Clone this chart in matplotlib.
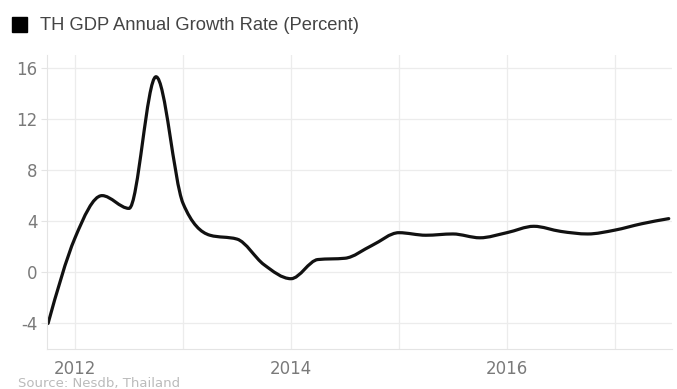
"""
TH GDP annual growth rate, quarterly, smoothed line.
"""

import numpy as np
import matplotlib
matplotlib.use("Agg")
from matplotlib import pyplot as plt
from matplotlib.path import Path
from matplotlib.patches import PathPatch

plt.rcParams["axes.unicode_minus"] = False

# quarter positions (fractional year) and growth values
quarters = [2011.75, 2012.00, 2012.25, 2012.50, 2012.75, 2013.00, 2013.25, 2013.50,
            2013.75, 2014.00, 2014.25, 2014.50, 2014.75, 2015.00, 2015.25, 2015.50,
            2015.75, 2016.00, 2016.25, 2016.50, 2016.75, 2017.00, 2017.25, 2017.50]
growth = [-4.0, 2.7, 6.0, 5.0, 15.3, 5.4, 2.9, 2.6,
          0.6, -0.5, 1.0, 1.1, 2.1, 3.1, 2.9, 3.0,
          2.7, 3.1, 3.6, 3.2, 3.0, 3.3, 3.8, 4.2]

yticks = [-4, 0, 4, 8, 12, 16]
xticks = [2012, 2013, 2014, 2015, 2016, 2017]
xlabels = ["2012", "", "2014", "", "2016", ""]


def smooth_path(x, y):
    # monotone cubic (d3 curveMonotoneX style) as bezier segments
    x = np.asarray(x, float)
    y = np.asarray(y, float)
    n = len(x)
    h = np.diff(x)
    s = np.diff(y) / h
    m = np.zeros(n)
    for i in range(1, n - 1):
        if s[i - 1] * s[i] <= 0:
            m[i] = 0
        else:
            p = (s[i - 1] * h[i] + s[i] * h[i - 1]) / (h[i - 1] + h[i])
            m[i] = (np.sign(s[i - 1]) + np.sign(s[i])) * min(abs(s[i - 1]), abs(s[i]), 0.5 * abs(p))
    m[0] = (3 * s[0] - m[1]) / 2
    m[-1] = (3 * s[-1] - m[-2]) / 2
    verts = [(x[0], y[0])]
    codes = [Path.MOVETO]
    for i in range(n - 1):
        d = h[i] / 3
        verts += [(x[i] + d, y[i] + d * m[i]), (x[i + 1] - d, y[i + 1] - d * m[i + 1]),
                  (x[i + 1], y[i + 1])]
        codes += [Path.CURVE4] * 3
    return Path(verts, codes)


fig = plt.figure(figsize=(6.77, 3.89), dpi=100)
ax = fig.add_axes([0.0694, 0.1028, 0.9232, 0.7558])

ax.add_patch(PathPatch(smooth_path(quarters, growth), fc="none", ec="#111111", lw=2.3,
                       capstyle="round", joinstyle="round"))

ax.set_xlim(2011.74, 2017.53)
ax.set_ylim(-6, 17)
ax.set_yticks(yticks)
ax.set_xticks(xticks)
ax.set_xticklabels(xlabels)
ax.grid(True, color="#ececec", lw=0.9)
ax.set_axisbelow(True)
for s in ["top", "right"]:
    ax.spines[s].set_visible(False)
for s in ["left", "bottom"]:
    ax.spines[s].set_color("#e4e4e4")
ax.tick_params(axis="both", colors="#e4e4e4", labelcolor="#7a7a7a", labelsize=12)
ax.tick_params(axis="y", length=4, pad=3)
ax.tick_params(axis="x", length=0, pad=8)

# legend-like title
fig.patches.append(plt.Rectangle((12 / 677, 1 - 32 / 389), 15 / 677, 15 / 389,
                                 transform=fig.transFigure, color="black"))
fig.text(40 / 677, 1 - 25 / 389, "TH GDP Annual Growth Rate (Percent)",
         fontsize=13.2, color="#444444", va="center", family="Liberation Sans")
fig.text(18 / 677, 1 - 384 / 389, "Source: Nesdb, Thailand",
         fontsize=9.5, color="#bbbbbb", va="center")

plt.savefig("out.png", dpi=100)
